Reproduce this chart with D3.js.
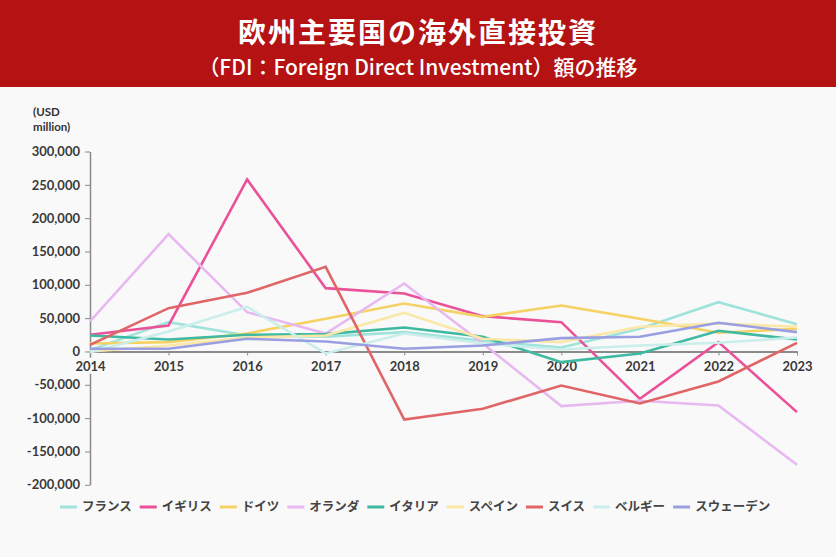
<!DOCTYPE html>
<html><head><meta charset="utf-8">
<script src="https://cdn.jsdelivr.net/npm/d3@7"></script>
<style>
body{margin:0;background:#f9f9f9}
svg{display:block}
</style>
</head><body>
<svg id="chart" width="836" height="557"></svg>
<script>
// ---- data ----
const years = [2014, 2015, 2016, 2017, 2018, 2019, 2020, 2021, 2022, 2023];
const seriesNames = ["フランス", "イギリス", "ドイツ", "オランダ", "イタリア", "スペイン", "スイス", "ベルギー", "スウェーデン"];
const france      = [2000, 44000, 24000, 22000, 29000, 16000, 6000, 34000, 74000, 41000];
const uk          = [25000, 39000, 258000, 95000, 87000, 53000, 44000, -71000, 14000, -91000];
const germany     = [12000, 14000, 27000, 49000, 72000, 52000, 69000, 49000, 28000, 34000];
const netherlands = [45000, 176000, 59000, 27000, 102000, 12000, -82000, -74000, -81000, -170000];
const italy       = [24000, 18000, 25000, 26000, 36000, 22000, -16000, -3000, 31000, 18000];
const spain       = [0, 9000, 21000, 24000, 58000, 19000, 14000, 37000, 42000, 37000];
const switzerland = [10000, 65000, 88000, 127000, -102000, -86000, -51000, -78000, -45000, 13000];
const belgium     = [-1000, 30000, 67000, -3000, 27000, 12000, 3000, 9000, 13000, 21000];
const sweden      = [4000, 4000, 19000, 15000, 4000, 9000, 20000, 22000, 43000, 29000];
const yTicks = [-200000, -150000, -100000, -50000, 0, 50000, 100000, 150000, 200000, 250000, 300000];
const colors = ["#9fe3da", "#ea5199", "#f4d264", "#e8b8f0", "#3fb9a1", "#fbe7a6", "#e06566", "#c9eeeb", "#9a9fe2"];
const titleText = "欧州主要国の海外直接投資";
const subtitleText = "（FDI：Foreign Direct Investment）額の推移";
const unitLines = ["(USD", "million)"];

const values = [france, uk, germany, netherlands, italy, spain, switzerland, belgium, sweden];
const series = seriesNames.map((n, i) => ({name: n, color: colors[i], values: values[i]}));

const svg = d3.select("#chart");
const W = 836, H = 557;
const cjk = "'Noto Sans CJK JP', 'Noto Sans', sans-serif";
const latin = "Lato, 'Noto Sans', sans-serif";

svg.append("rect").attr("width", W).attr("height", H).attr("fill", "#f9f9f9");

// header
svg.append("rect").attr("x", 0).attr("y", 0).attr("width", W).attr("height", 87).attr("fill", "#b41213");
svg.append("text").attr("x", W / 2).attr("y", 43).attr("text-anchor", "middle")
  .attr("fill", "#fff").attr("font-family", cjk).attr("font-weight", 700).attr("font-size", 28)
  .attr("letter-spacing", 2).text(titleText);
svg.append("text").attr("x", W / 2).attr("y", 75).attr("text-anchor", "middle")
  .attr("fill", "#fff").attr("font-family", cjk).attr("font-weight", 500).attr("font-size", 21)
  .text(subtitleText);

// scales
const x = d3.scaleLinear().domain([2014, 2023]).range([90, 797]);
const y = d3.scaleLinear().domain([-200000, 300000]).range([484.8, 151.5]);

// unit label
svg.append("g").selectAll("text").data(unitLines).join("text")
  .attr("x", 33).attr("y", (d, i) => 116 + i * 15)
  .attr("font-family", latin).attr("font-weight", 700).attr("font-size", 11.5).attr("fill", "#333")
  .text(d => d);

// y axis
const fmt = d3.format(",");
const yAxis = svg.append("g").attr("transform", "translate(90,0)")
  .call(d3.axisLeft(y).tickValues(yTicks).tickSize(5).tickSizeOuter(0).tickPadding(5)
    .tickFormat(d => fmt(d).replace("−", "-")));
yAxis.select(".domain").attr("stroke", "#8a8a8a").attr("stroke-width", 1.5);
yAxis.selectAll(".tick line").attr("stroke", "#8a8a8a");
yAxis.selectAll(".tick text").attr("font-family", latin).attr("font-weight", 700)
  .attr("font-size", 13).attr("fill", "#3a3a3a");

// x axis at zero
const xAxis = svg.append("g").attr("transform", `translate(0,${y(0)})`)
  .call(d3.axisBottom(x).tickValues(years).tickFormat(d3.format("d")).tickSize(4).tickSizeOuter(0).tickPadding(6));
xAxis.select(".domain").attr("stroke", "#8a8a8a").attr("stroke-width", 2);
xAxis.selectAll(".tick line").attr("stroke", "#8a8a8a");
xAxis.selectAll(".tick text").attr("font-family", latin).attr("font-weight", 700)
  .attr("font-size", 13).attr("fill", "#3a3a3a");
xAxis.selectAll(".tick").each(function () {
  const g = d3.select(this);
  const t = g.select("text");
  const bb = t.node().getBBox();
  g.insert("rect", "text").attr("x", bb.x - 2).attr("y", bb.y).attr("width", bb.width + 4)
    .attr("height", bb.height).attr("fill", "#f9f9f9");
});

// lines
const line = d3.line().x((d, i) => x(years[i])).y(d => y(d));
svg.append("g").selectAll("path").data(series).join("path")
  .attr("d", d => line(d.values)).attr("fill", "none")
  .attr("stroke", d => d.color).attr("stroke-width", 2.6);

// legend
const leg = svg.append("g").attr("transform", "translate(0,507)");
let cx = 60;
series.forEach(s => {
  leg.append("line").attr("x1", cx).attr("x2", cx + 17).attr("y1", 0).attr("y2", 0)
    .attr("stroke", s.color).attr("stroke-width", 3);
  const t = leg.append("text").attr("x", cx + 22).attr("y", 0).attr("dy", "0.35em")
    .attr("font-family", cjk).attr("font-weight", 700).attr("font-size", 12.5).attr("fill", "#444")
    .text(s.name);
  cx += 22 + t.node().getComputedTextLength() + 8;
});
</script>
</body></html>
